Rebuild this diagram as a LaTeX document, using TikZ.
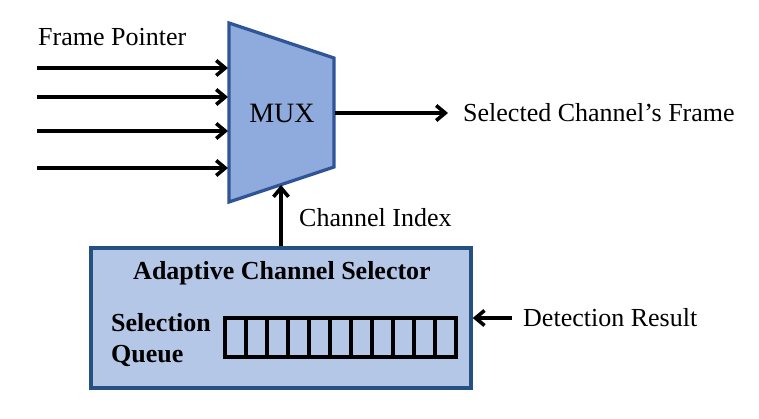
\documentclass[tikz,border=0pt]{standalone}
\usepackage{fontspec}
\setmainfont{Liberation Serif}
\usetikzlibrary{arrows.meta}
\definecolor{muxfill}{RGB}{143,170,220}
\definecolor{muxdraw}{RGB}{47,85,151}
\definecolor{selfill}{RGB}{180,199,231}
\definecolor{seldraw}{RGB}{37,80,130}
\newcommand{\slot}[4]{ \draw[line width=3.2pt] ( #1 , #2 ) rectangle ( #3 , #4 );}
\tikzset{
    sig/.style={line width=3.6pt,-{Straight Barb[length=9pt,width=15pt]}},
    lbl/.style={anchor=west,inner sep=0pt}
}

\begin{document}
\begin{tikzpicture}[x=1pt,y=-1pt,font=\fontsize{26}{31}\selectfont]
        \useasboundingbox (0,0) rectangle (759,419);

        % mux
        \draw[fill=muxfill, draw=muxdraw, line width=3.2pt] (229,23) -- (334,58) -- (334,167) -- (229,202) -- cycle;
        \node (mux) at (282,113) {\fontsize{28}{30}\selectfont MUX};

        % inputs
        \node[lbl] (fp) at (38,37) {Frame Pointer};
        \foreach \i/\y in {1/68,2/97,3/131,4/168} {
            \coordinate (src\i) at (37,\y);
            \coordinate (in\i) at (228,\y);
            \draw[sig] (src\i) -- (in\i);
        }

        % output
        \coordinate (muxout) at (335,113);
        \coordinate (outend) at (448,113);
        \draw[sig] (muxout) -- (outend);
        \node[lbl] (outlbl) at (463,113) {Selected Channel’s Frame};

        % selector
        \node[draw=seldraw, fill=selfill, line width=3.4pt, minimum width=380pt, minimum height=140pt] (acs) at (281,318) {};
        \node[font=\fontsize{26}{31}\selectfont\bfseries] (title) at (282,273) {Adaptive Channel Selector};
        \node[lbl, align=left, font=\fontsize{26}{31}\selectfont\bfseries] (sqlbl) at (111,340) {Selection\\Queue};

        % queue
        \foreach \k in {0,...,10} {
            \slot{225+21*\k}{318}{246+21*\k}{357}
        }

        % index
        \coordinate (muxbot) at (281,185);
        \draw[sig] (acs.north) -- (muxbot);
        \node[lbl] (idx) at (299,218) {Channel Index};

        % detection
        \coordinate (detsrc) at (512,318);
        \draw[sig] (detsrc) -- (acs.east |- detsrc);
        \node[lbl] (det) at (523,318) {Detection Result};

\end{tikzpicture}
\end{document}
